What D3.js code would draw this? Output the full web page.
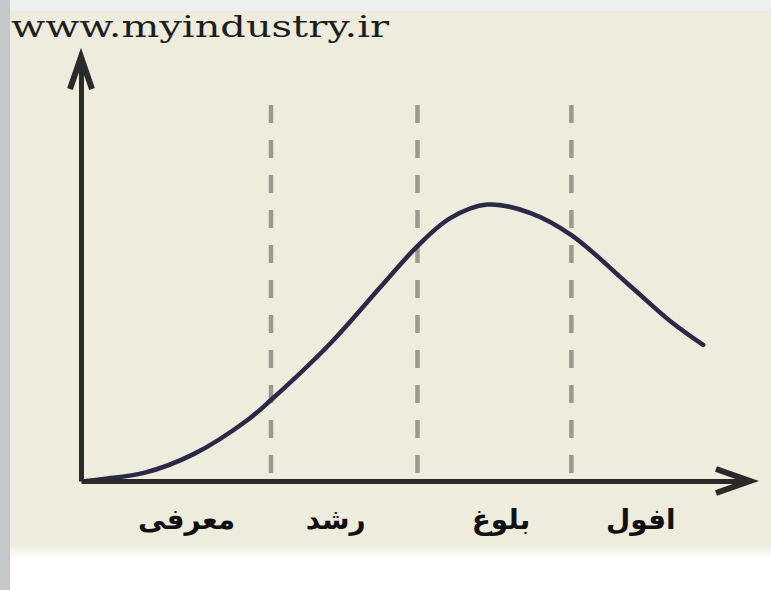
<!DOCTYPE html>
<html><head><meta charset="utf-8">
<script src="https://cdn.jsdelivr.net/npm/d3@7"></script>
<style>html,body{margin:0;padding:0;background:#fff;}svg{display:block;}</style>
</head><body>
<svg id="c" width="771" height="590"></svg>
<script>
// ---- data ----
const title = "www.myindustry.ir";
const stages = ["معرفی", "رشد", "بلوغ", "افول"];
const stageLabelX = [15.7, 38.0, 62.7, 83.6];
const stageBounds = [28.4, 50.3, 73.3];
const timeX = [0.8, 3.4, 9.4, 16.9, 24.9, 28.4, 37.3, 44.8, 50.3, 55.2, 60.7, 67.2, 73.3, 82.1, 88.1, 93.0];
const salesY = [0.0, 0.5, 1.9, 6.4, 14.4, 19.1, 32.5, 45.8, 55.4, 62.0, 65.2, 63.2, 58.0, 46.0, 37.7, 32.1];

const svg = d3.select("#c");
const W = 771, H = 590;

// background
const defs = svg.append("defs");
const g1 = defs.append("linearGradient").attr("id","bot").attr("x1",0).attr("y1",0).attr("x2",0).attr("y2",1);
g1.append("stop").attr("offset","0%").attr("stop-color","#edecdd");
g1.append("stop").attr("offset","100%").attr("stop-color","#ffffff");
svg.append("rect").attr("x",0).attr("y",0).attr("width",W).attr("height",H).attr("fill","#ffffff");
svg.append("rect").attr("x",10).attr("y",11).attr("width",W-10).attr("height",540).attr("fill","#edecdd");
svg.append("rect").attr("x",10).attr("y",545).attr("width",W-10).attr("height",14).attr("fill","url(#bot)");
svg.append("rect").attr("x",10).attr("y",0).attr("width",W-10).attr("height",11).attr("fill","#eef0f0");
svg.append("rect").attr("x",0).attr("y",0).attr("width",10).attr("height",H).attr("fill","#c4c8cb");

// scales
const x = d3.scaleLinear().domain([0,100]).range([81,750]);
const y = d3.scaleLinear().domain([0,100]).range([481,57]);

// title
svg.append("text").attr("x",11).attr("y",37)
  .attr("font-family","DejaVu Serif, serif").attr("font-size",29)
  .attr("fill","#1e1e1e").attr("textLength",378).attr("lengthAdjust","spacingAndGlyphs")
  .text(title);

// dashed stage boundaries
svg.append("g").selectAll("line").data(stageBounds).join("line")
  .attr("x1",d=>x(d)).attr("x2",d=>x(d))
  .attr("y1",105).attr("y2",y(0))
  .attr("stroke","#9a9a8e").attr("stroke-width",4.5)
  .attr("stroke-dasharray","18 17");

// curve
const pts = timeX.map((t,i)=>[t, salesY[i]]);
svg.append("path").datum(pts)
  .attr("d", d3.line().x(d=>x(d[0])).y(d=>y(d[1])).curve(d3.curveCatmullRom.alpha(0.5)))
  .attr("fill","none").attr("stroke","#2b2947").attr("stroke-width",4.5).attr("stroke-linecap","round");

// x axis with stage labels
const xAxis = svg.append("g").attr("transform",`translate(0,${y(0)})`)
  .call(d3.axisBottom(x).tickValues(stageLabelX).tickFormat((d,i)=>stages[i]).tickSize(0).tickSizeOuter(0));
xAxis.select(".domain").attr("stroke","#2a2a2a").attr("stroke-width",5);
xAxis.selectAll("text").attr("font-family","DejaVu Sans, sans-serif").attr("font-weight","bold")
  .attr("font-size",28).attr("fill","#111").attr("dy",0).attr("y",48).attr("direction","rtl");

// y axis
const yAxis = svg.append("g").attr("transform",`translate(${x(0)},0)`)
  .call(d3.axisLeft(y).tickValues([]).tickSizeOuter(0));
yAxis.select(".domain").attr("stroke","#2a2a2a").attr("stroke-width",5);

// arrowheads
const x0 = x(0), y0 = y(0), xr = x(100), yt = y(100);
svg.append("path").attr("d",`M${x0-11},${yt+32} L${x0},${yt} L${x0+11},${yt+32}`)
  .attr("fill","none").attr("stroke","#2a2a2a").attr("stroke-width",6).attr("stroke-linejoin","miter");
svg.append("path").attr("d",`M${xr-34},${y0-12} L${xr},${y0} L${xr-34},${y0+12}`)
  .attr("fill","none").attr("stroke","#2a2a2a").attr("stroke-width",6).attr("stroke-linejoin","miter");
</script>
</body></html>
